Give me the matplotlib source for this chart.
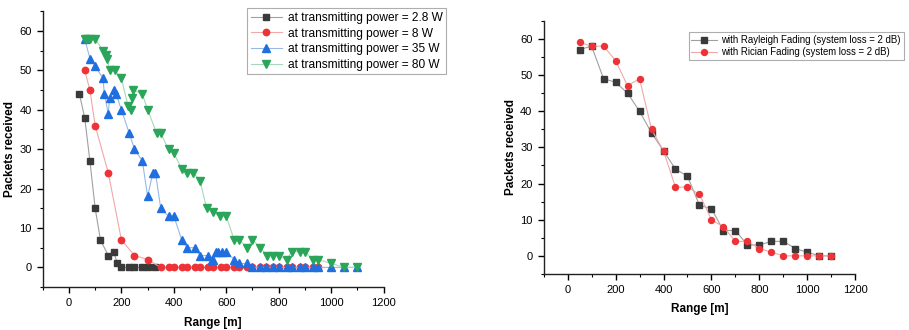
import matplotlib.pyplot as plt

plt.rcParams['font.family'] = ['Liberation Sans', 'DejaVu Sans']

# Left panel: packets received vs range at different transmitting powers
x_28w = [40, 60, 80, 100, 120, 150, 170, 185, 200, 230, 250, 280, 300, 330]
y_28w = [44, 38, 27, 15, 7, 3, 4, 1, 0, 0, 0, 0, 0, 0]

x_8w = [60, 80, 100, 150, 200, 250, 300, 350, 380, 400, 430, 450, 480, 500, 530,
        550, 580, 600, 630, 650, 680, 700, 730, 750, 780, 800, 830, 850, 880, 900,
        930, 950]
y_8w = [50, 45, 36, 24, 7, 3, 2] + [0] * 25

x_35w = [60, 80, 100, 130, 135, 150, 155, 170, 180, 200, 230, 250, 280, 300, 320,
         330, 350, 380, 400, 430, 450, 480, 500, 530, 545, 550, 560, 570, 585, 600,
         630, 650, 680, 700, 730, 750, 780, 800, 830, 850, 880, 900, 930, 950, 1000,
         1050, 1100]
y_35w = [58, 53, 51, 48, 44, 39, 43, 45, 44, 40, 34, 30, 27, 18, 24,
         24, 15, 13, 13, 7, 5, 5, 3, 3, 2, 2, 4, 4, 4, 4,
         2, 1, 1, 0, 0, 0, 0, 0, 0, 0, 0, 0, 0, 0, 0,
         0, 0]

x_80w = [60, 70, 80, 100, 130, 140, 145, 155, 175, 200, 225, 235, 240, 245, 280,
         300, 335, 350, 380, 400, 430, 450, 475, 500, 525, 550, 575, 600, 630, 650,
         680, 700, 730, 755, 780, 800, 830, 850, 880, 900, 930, 950, 1000, 1050, 1100]
y_80w = [58, 58, 58, 58, 55, 54, 53, 50, 50, 48, 41, 40, 43, 45, 44,
         40, 34, 34, 30, 29, 25, 24, 24, 22, 15, 14, 13, 13, 7, 7,
         5, 7, 5, 3, 3, 3, 2, 4, 4, 4, 2, 2, 1, 0, 0]

# Right panel: fading models
x_fade = [50, 100, 150, 200, 250, 300, 350, 400, 450, 500, 550, 600, 650, 700, 750,
          800, 850, 900, 950, 1000, 1050, 1100]
y_rayleigh = [57, 58, 49, 48, 45, 40, 34, 29, 24, 22, 14, 13, 7, 7, 3,
              3, 4, 4, 2, 1, 0, 0]
y_rician = [59, 58, 58, 54, 47, 49, 35, 29, 19, 19, 17, 10, 8, 4, 4,
            2, 1, 0, 0, 0, 0, 0]

fig = plt.figure(figsize=(9.09, 3.3), dpi=100)
ax1 = fig.add_axes([0.047, 0.130, 0.375, 0.836])
ax2 = fig.add_axes([0.598, 0.170, 0.343, 0.767])


def style_axis(ax):
    ax.set_xlim(-100, 1200)
    ax.set_ylim(-5, 65)
    ax.set_xticks([0, 200, 400, 600, 800, 1000, 1200])
    ax.set_xticks(range(-100, 1201, 100), minor=True)
    ax.set_yticks([0, 10, 20, 30, 40, 50, 60])
    ax.set_yticks(range(-5, 66, 5), minor=True)
    ax.spines['top'].set_visible(False)
    ax.spines['right'].set_visible(False)
    for s in ['left', 'bottom']:
        ax.spines[s].set_linewidth(1.0)
        ax.spines[s].set_color('#222222')
    ax.tick_params(which='major', direction='out', length=4.5, width=1, labelsize=8)
    ax.tick_params(which='minor', direction='out', length=2.5, width=0.8)
    ax.set_xlabel('Range [m]', fontsize=8.5, fontweight='bold', labelpad=6)
    ax.set_ylabel('Packets received', fontsize=8.5, fontweight='bold', labelpad=2)


ax1.plot(x_28w, y_28w, color='#a0a0a0', lw=0.8, marker='s', ms=4.3,
         mfc='#3a3a3a', mec='#3a3a3a', label='at transmitting power = 2.8 W')
ax1.plot(x_8w, y_8w, color='#f0a8a8', lw=0.8, marker='o', ms=4.6,
         mfc='#ee3338', mec='#ee3338', label='at transmitting power = 8 W')
ax1.plot(x_35w, y_35w, color='#98b8e6', lw=0.8, marker='^', ms=5.2,
         mfc='#1f6fe0', mec='#1f6fe0', label='at transmitting power = 35 W')
ax1.plot(x_80w, y_80w, color='#a8d8bc', lw=0.8, marker='v', ms=5.2,
         mfc='#2aa55a', mec='#2aa55a', label='at transmitting power = 80 W')
style_axis(ax1)
leg1 = ax1.legend(loc='upper left', bbox_to_anchor=(0.60, 1.01), fontsize=8.6,
                  frameon=True, fancybox=False, edgecolor='#999999',
                  handlelength=2.6, borderpad=0.3, labelspacing=0.3,
                  handletextpad=0.5, borderaxespad=0)
leg1.get_frame().set_linewidth(0.8)

ax2.plot(x_fade, y_rayleigh, color='#a0a0a0', lw=0.8, marker='s', ms=4,
         mfc='#3a3a3a', mec='#3a3a3a', label='with Rayleigh Fading (system loss = 2 dB)')
ax2.plot(x_fade, y_rician, color='#f0a8a8', lw=0.8, marker='o', ms=4.3,
         mfc='#ee3338', mec='#ee3338', label='with Rician Fading (system loss = 2 dB)')
style_axis(ax2)
leg2 = ax2.legend(loc='upper left', bbox_to_anchor=(0.465, 0.955), fontsize=6.95,
                  frameon=True, fancybox=False, edgecolor='#999999',
                  handlelength=2.6, borderpad=0.3, labelspacing=0.25,
                  handletextpad=0.5, borderaxespad=0)
leg2.get_frame().set_linewidth(0.8)

fig.savefig('out.png', dpi=100)
